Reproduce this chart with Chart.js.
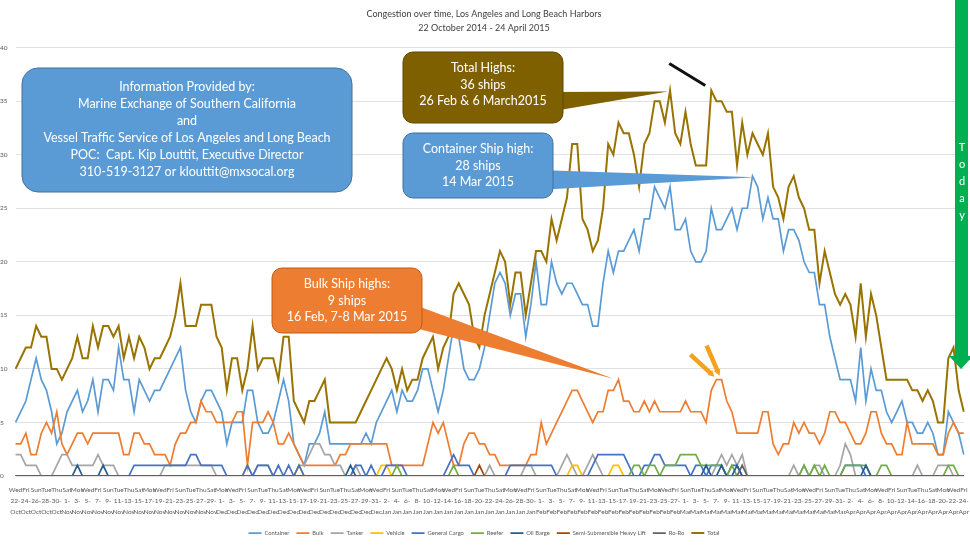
<!DOCTYPE html>
<html>
<head>
<meta charset="utf-8">
<title>Congestion over time, Los Angeles and Long Beach Harbors</title>
<script src="https://cdn.jsdelivr.net/npm/chart.js@4.4.1/dist/chart.umd.min.js"></script>
<style>
    html, body { margin: 0; padding: 0; background: #ffffff; }
    #chartBox { width: 970px; height: 546px; }
</style>
</head>
<body>
<div id="chartBox"><canvas id="congestionChart" width="970" height="546"></canvas></div>
<script>
// Daily ship counts, 22 Oct 2014 - 24 Apr 2015 (185 days)
// rows: Oct(10) / Nov(30) / Dec(31) / Jan(31) / Feb(28) / Mar(31) / Apr(24)
const container = [
    5,6,7,9,11,9,8,6,3,4,
    6,7,8,6,7,9,6,9,9,8, 12,9,9,6,9,8,7,8,8,9, 10,11,12,8,6,5,7,8,8,7,
    6,3,5,5,5,8,8,5,4,4, 5,7,9,7,3,2,1,3,3,4, 6,3,3,3,3,3,3,3,4,3, 5,
    6,7,8,6,8,7,7,8,10,10, 8,6,8,11,14,13,10,9,9,10, 12,15,18,19,18,15,17,17,13,16, 20,
    16,16,20,18,17,18,18,17,16,16, 14,14,18,21,19,21,21,22,23,21, 24,24,27,26,25,27,23,23,
    24,21,20,20,21,25,23,23,24,25, 23,25,25,28,27,24,26,24,24,21, 23,23,22,20,19,19,16,16,13,11, 9,
    9,9,7,12,7,10,8,8,6,5, 6,7,5,5,4,4,5,4,2,2, 6,5,4,2
];
const bulk = [
    3,3,4,2,2,4,5,4,6,3,
    2,3,4,4,3,4,4,4,4,4, 4,2,2,4,4,3,3,2,2,2, 1,3,4,4,5,5,7,6,6,5,
    5,5,5,6,6,1,5,5,5,6, 5,3,3,4,3,2,1,1,1,1, 1,1,1,2,2,3,3,3,3,3, 3,
    3,3,1,1,1,1,1,1,1,3, 5,4,5,3,1,1,3,4,4,3, 3,2,2,1,1,1,1,1,1,2, 2,
    5,3,4,5,6,7,8,8,7,6, 5,6,6,8,8,9,7,7,6,6, 7,6,7,6,6,6,6,6,
    7,6,6,6,5,8,9,9,7,6, 4,4,4,4,4,6,6,3,2,3, 3,5,4,5,4,4,3,4,6,6, 5,
    5,4,3,3,4,6,6,4,3,3, 2,2,5,3,3,3,3,3,2,2, 4,5,4,4
];
const tanker = [
    2,2,1,1,1,0,0,0,1,2,
    2,1,1,1,1,1,2,1,1,1, 0,0,0,0,0,0,0,0,0,1, 1,1,1,1,1,1,1,1,1,0,
    0,0,0,0,0,0,0,1,1,1, 0,0,0,0,0,1,1,2,3,3, 2,2,1,1,0,0,1,0,0,0, 0,
    0,0,0,0,0,0,0,0,0,0, 0,0,0,0,0,0,0,0,0,0, 0,1,0,0,0,0,0,0,1,1, 0,
    0,0,0,0,1,2,1,0,0,1, 2,1,0,0,0,0,0,0,0,0, 0,0,0,0,0,0,0,0,
    0,0,0,0,0,0,1,2,1,2, 1,2,0,0,0,0,0,0,0,0, 0,1,0,1,0,1,1,0,0,0, 1,
    3,2,0,0,0,0,0,0,0,0, 0,0,0,0,1,0,0,0,1,1, 1,0,0,0
];
const vehicle = [
    0,0,0,0,0,0,0,0,0,0,
    0,0,0,0,0,0,0,0,0,0, 0,0,0,0,0,0,0,0,0,0, 0,0,0,0,0,0,0,0,0,0,
    0,0,0,0,0,1,0,0,0,0, 0,0,0,0,0,1,0,0,0,0, 0,0,0,0,0,0,0,0,0,0, 0,
    1,1,0,0,0,0,0,0,0,0, 0,0,0,0,0,0,0,0,0,0, 0,0,0,0,0,0,0,0,0,0, 0,
    0,0,0,0,0,0,1,1,0,0, 0,0,0,0,1,1,0,0,0,0, 0,0,0,0,0,0,0,0,
    0,0,0,0,0,0,0,0,0,0, 0,0,0,0,0,0,0,0,0,0, 0,0,0,0,0,0,0,0,0,0, 0,
    0,0,0,0,0,0,0,0,0,0, 0,0,0,0,0,0,0,0,0,0, 0,0,0,0
];
const generalCargo = [
    0,0,0,0,0,0,0,0,0,0,
    0,0,0,0,0,0,0,0,0,0, 0,0,0,1,1,1,1,1,1,1, 1,1,1,1,2,2,1,1,1,1,
    1,0,0,0,0,1,0,1,1,1, 0,1,0,1,0,1,0,0,0,0, 0,0,0,0,0,0,1,1,0,1, 0,
    0,1,1,1,1,0,0,0,0,0, 0,0,0,1,2,1,1,1,0,0, 0,0,0,0,0,1,1,1,1,1, 1,
    1,1,1,0,0,0,0,0,0,0, 1,2,2,2,2,2,2,1,0,0, 1,1,2,2,1,1,1,1,
    1,0,1,1,0,1,1,1,0,1, 1,0,0,0,0,0,0,0,0,0, 0,0,0,0,0,0,0,0,0,0, 0,
    1,1,1,1,0,0,0,0,0,0, 0,0,0,0,0,0,0,0,0,0, 0,0,0,0
];
const reefer = [
    0,0,0,0,0,0,0,0,0,0,
    0,0,0,0,0,0,0,0,0,0, 0,0,0,0,0,0,0,0,0,0, 0,0,0,0,0,0,0,0,0,0,
    0,0,0,0,0,0,0,0,0,0, 0,0,0,0,0,0,0,0,0,0, 0,0,0,0,0,0,0,0,0,0, 0,
    0,0,0,1,0,0,0,0,0,0, 0,0,0,0,1,0,0,0,0,0, 0,0,0,0,0,0,0,0,0,0, 0,
    0,0,0,0,0,0,0,0,0,0, 0,0,0,0,0,0,0,0,1,1, 0,1,1,0,1,1,1,2,
    2,2,2,1,1,1,1,1,0,1, 0,0,0,0,0,0,0,0,0,0, 0,0,0,1,0,1,0,1,0,0, 0,
    1,1,1,1,1,0,0,1,1,0, 0,0,0,0,0,0,0,0,0,0, 1,1,0,0
];
const oilBarge = [
    0,0,0,0,0,0,0,0,0,0,
    0,0,1,0,0,0,0,1,0,0, 0,0,0,0,0,0,0,0,0,0, 0,0,0,0,0,0,0,0,0,0,
    0,0,0,0,0,0,0,0,0,0, 0,0,0,0,0,0,0,0,0,0, 0,0,0,0,0,1,0,0,0,0, 0,
    0,0,0,0,0,0,0,0,0,0, 0,0,0,0,0,0,0,0,0,0, 0,0,0,0,0,0,0,0,0,0, 0,
    0,0,0,0,0,0,0,0,0,0, 0,0,0,0,0,0,0,0,0,0, 0,0,0,0,0,0,0,0,
    0,0,0,0,1,0,0,1,0,0, 1,0,0,0,0,0,0,0,0,0, 0,0,0,0,0,0,0,0,0,0, 0,
    0,0,0,0,1,0,0,0,0,0, 0,0,0,0,0,0,0,0,0,0, 0,0,0,0
];
const semiSubmersible = [
    0,0,0,0,0,0,0,0,0,0,
    0,0,0,0,0,0,0,0,0,0, 0,0,0,0,0,0,0,0,0,0, 0,0,0,0,0,0,0,0,0,0,
    0,0,0,0,0,0,0,0,0,0, 0,0,0,0,0,0,0,0,0,0, 0,0,0,0,0,0,0,0,0,0, 0,
    0,0,0,0,0,0,0,0,0,0, 0,0,0,0,0,0,0,0,0,1, 0,0,0,0,0,0,0,0,0,0, 0,
    0,0,0,0,0,0,0,0,0,0, 0,0,0,0,0,0,0,0,0,0, 0,0,0,0,0,0,0,0,
    0,0,0,0,0,0,0,0,0,0, 0,0,0,0,0,0,0,0,0,0, 0,0,0,0,0,0,0,0,0,0, 0,
    0,0,0,0,0,0,0,0,0,0, 0,0,0,0,0,0,0,0,0,0, 0,0,0,0
];
const roRo = [
    0,0,0,0,0,0,0,0,0,0,
    0,0,0,0,0,0,0,0,0,0, 0,0,0,0,0,0,0,0,0,0, 0,0,0,0,0,0,0,0,0,0,
    0,0,0,0,0,0,0,0,0,0, 0,0,0,0,0,0,0,0,0,0, 0,0,0,0,0,0,0,0,0,0, 0,
    0,0,0,0,0,0,0,0,0,0, 0,0,0,0,0,0,0,0,0,0, 0,0,0,0,0,0,0,0,0,0, 0,
    0,0,0,0,0,0,0,0,0,0, 0,0,0,0,0,0,0,0,0,0, 0,0,0,0,0,0,0,0,
    0,0,0,0,0,0,0,0,0,0, 0,1,0,0,0,0,0,0,0,0, 0,0,0,0,0,0,0,0,0,0, 0,
    0,0,0,0,0,0,0,0,0,0, 0,0,0,0,0,0,0,0,0,0, 0,0,0,0
];
const total = [
    10,11,12,12,14,13,13,10,10,9,
    10,11,13,11,11,14,12,14,14,13, 14,11,13,11,13,12,10,11,11,12, 13,15,18,14,14,14,16,16,16,13,
    12,8,11,11,8,10,14,10,11,11, 11,9,13,13,7,6,5,7,7,8, 9,5,5,5,5,5,5,6,7,8, 9,
    10,11,10,8,10,8,9,9,11,12, 13,10,12,13,17,18,17,16,13,12, 15,17,19,21,20,16,19,19,15,18, 21,
    21,20,24,22,24,26,31,31,24,23, 21,22,25,31,30,33,32,32,30,27, 31,32,35,35,33,36,32,31,
    34,31,29,29,29,36,35,35,34,34, 29,33,30,32,31,30,32,27,26,24, 27,28,26,25,23,23,18,21,19,17, 16,
    17,16,13,18,13,17,15,12,9,9, 9,9,9,8,8,7,8,7,5,5, 11,12,8,6
];

const seriesNames = ['Container', 'Bulk', 'Tanker', 'Vehicle', 'General Cargo', 'Reefer',
    'Oil Barge', 'Semi-Submersible Heavy Lift', 'Ro-Ro', 'Total'];
const seriesData = [container, bulk, tanker, vehicle, generalCargo, reefer,
    oilBarge, semiSubmersible, roRo, total];
const seriesColors = ['#5B9BD5', '#ED7D31', '#A5A5A5', '#FFC000', '#4472C4', '#70AD47',
    '#255E91', '#9E480E', '#636363', '#997300'];

const yTicks = [0, 5, 10, 15, 20, 25, 30, 35, 40];

// x categories: one per day, label = weekday / day- / month
const weekdayNames = ['Sun', 'Mon', 'Tue', 'Wed', 'Thu', 'Fri', 'Sat'];
const monthNames = ['Jan', 'Feb', 'Mar', 'Apr', 'May', 'Jun', 'Jul', 'Aug', 'Sep', 'Oct', 'Nov', 'Dec'];
const dayCount = 185;
const dayLabels = [];
for (let i = 0; i < dayCount; i++) {
    const d = new Date(2014, 9, 22 + i);
    dayLabels.push([weekdayNames[d.getDay()], d.getDate() + '-', monthNames[d.getMonth()]]);
}

const FONT = 'Lato, "Open Sans", sans-serif';

function roundRectPath(ctx, x, y, w, h, r) {
    ctx.beginPath();
    ctx.moveTo(x + r, y);
    ctx.arcTo(x + w, y, x + w, y + h, r);
    ctx.arcTo(x + w, y + h, x, y + h, r);
    ctx.arcTo(x, y + h, x, y, r);
    ctx.arcTo(x, y, x + w, y, r);
    ctx.closePath();
}

// rounded box with optional wedge pointing at a data point
function drawCallout(ctx, box, fill, stroke, lines, wedge) {
    ctx.save();
    ctx.fillStyle = fill;
    if (wedge) {
        ctx.beginPath();
        ctx.moveTo(wedge.baseX, wedge.y1);
        ctx.lineTo(wedge.tipX, wedge.tipY);
        ctx.lineTo(wedge.baseX, wedge.y2);
        ctx.closePath();
        ctx.fill();
    }
    roundRectPath(ctx, box.x, box.y, box.w, box.h, box.r);
    ctx.fill();
    ctx.lineWidth = 1;
    ctx.strokeStyle = stroke;
    ctx.stroke();
    ctx.fillStyle = '#ffffff';
    ctx.font = box.fontSize + 'px ' + FONT;
    ctx.textAlign = 'center';
    ctx.textBaseline = 'middle';
    lines.forEach((t, k) => {
        ctx.fillText(t, box.x + box.w / 2, box.firstLine + k * box.lineGap);
    });
    ctx.restore();
}

function drawArrow(ctx, x1, y1, x2, y2, color, width, head) {
    const ang = Math.atan2(y2 - y1, x2 - x1);
    ctx.save();
    ctx.strokeStyle = color;
    ctx.fillStyle = color;
    ctx.lineWidth = width;
    ctx.lineCap = 'butt';
    ctx.beginPath();
    ctx.moveTo(x1, y1);
    ctx.lineTo(x2 - Math.cos(ang) * head * 0.8, y2 - Math.sin(ang) * head * 0.8);
    ctx.stroke();
    if (head > 0) {
        ctx.beginPath();
        ctx.moveTo(x2, y2);
        ctx.lineTo(x2 - head * Math.cos(ang - 0.5), y2 - head * Math.sin(ang - 0.5));
        ctx.lineTo(x2 - head * Math.cos(ang + 0.5), y2 - head * Math.sin(ang + 0.5));
        ctx.closePath();
        ctx.fill();
    }
    ctx.restore();
}

const notesPlugin = {
    id: 'harborNotes',
    afterDatasetsDraw(chart) {
        const ctx = chart.ctx;
        const xs = chart.scales.x;
        const ys = chart.scales.y;

        // peaks taken from the data
        const totalMax = Math.max(...total);
        const totalFirst = total.indexOf(totalMax);
        const totalSecond = total.lastIndexOf(totalMax);
        const contMax = Math.max(...container);
        const contDay = container.indexOf(contMax);
        const bulkMax = Math.max(...bulk);
        const bulkFirst = bulk.indexOf(bulkMax);
        const bulkLast = bulk.lastIndexOf(bulkMax);

        // info box
        drawCallout(ctx, { x: 22, y: 68, w: 330, h: 124, r: 16, fontSize: 12.5, firstLine: 87, lineGap: 16.9 },
            '#5B9BD5', '#41719C', [
                'Information Provided by:',
                'Marine Exchange of Southern California',
                'and',
                'Vessel Traffic Service of Los Angeles and Long Beach',
                'POC:  Capt. Kip Louttit, Executive Director',
                '310-519-3127 or klouttit@mxsocal.org'
            ], null);

        // total highs
        drawCallout(ctx, { x: 403, y: 52, w: 160, h: 71, r: 10, fontSize: 12.5, firstLine: 68, lineGap: 16.5 },
            '#7F6000', '#5E4700', ['Total Highs:', '36 ships', '26 Feb & 6 March2015'],
            { baseX: 548, y1: 92, y2: 112, tipX: xs.getPixelForValue(totalFirst) - 2, tipY: ys.getPixelForValue(totalMax) + 1 });

        // container high
        drawCallout(ctx, { x: 403, y: 133, w: 150, h: 65, r: 10, fontSize: 12.5, firstLine: 149, lineGap: 16.5 },
            '#5B9BD5', '#41719C', ['Container Ship high:', '28 ships', '14 Mar 2015'],
            { baseX: 538, y1: 170, y2: 190, tipX: xs.getPixelForValue(contDay) + 3, tipY: ys.getPixelForValue(contMax) + 1 });

        // bulk highs
        drawCallout(ctx, { x: 272, y: 268, w: 150, h: 65, r: 10, fontSize: 12.5, firstLine: 284, lineGap: 16.5 },
            '#ED7D31', '#C55A11', ['Bulk Ship highs:', '9 ships', '16 Feb, 7-8 Mar 2015'],
            { baseX: 407, y1: 302, y2: 326, tipX: xs.getPixelForValue(bulkFirst) - 5, tipY: ys.getPixelForValue(bulkMax) - 1 });

        // black pointer at the second total peak
        const sx = xs.getPixelForValue(totalSecond);
        const sy = ys.getPixelForValue(totalMax);
        drawArrow(ctx, sx - 42, sy - 27, sx - 6, sy - 5, '#111111', 3, 0);

        // orange pointers at the March bulk peaks
        const bx1 = xs.getPixelForValue(bulkLast - 1);
        const bx2 = xs.getPixelForValue(bulkLast);
        const by = ys.getPixelForValue(bulkMax);
        drawArrow(ctx, bx1 - 26, by - 25, bx1 - 2, by - 3, '#F5A11C', 4.5, 7);
        drawArrow(ctx, bx2 - 15, by - 34, bx2 - 2, by - 4, '#F5A11C', 4.5, 7);

        // "Today" arrow at the right edge
        ctx.save();
        ctx.fillStyle = '#00B050';
        ctx.fillRect(955, 0, 13, 356);
        ctx.beginPath();
        ctx.moveTo(949, 356);
        ctx.lineTo(973, 356);
        ctx.lineTo(961, 369);
        ctx.closePath();
        ctx.fill();
        ctx.fillStyle = '#ffffff';
        ctx.font = '11px ' + FONT;
        ctx.textAlign = 'center';
        ctx.textBaseline = 'middle';
        'Today'.split('').forEach((ch, k) => ctx.fillText(ch, 962, 147 + k * 17));
        ctx.restore();
    }
};

const datasets = seriesNames.map((name, i) => ({
    label: name,
    data: seriesData[i],
    borderColor: seriesColors[i],
    backgroundColor: seriesColors[i],
    borderWidth: name === 'Total' ? 2 : 1.7,
    pointRadius: 0,
    tension: 0,
    fill: false,
    order: seriesNames.length - i // Total drawn on top
}));

new Chart(document.getElementById('congestionChart'), {
    type: 'line',
    data: { labels: dayLabels, datasets: datasets },
    options: {
        responsive: false,
        animation: false,
        layout: { padding: { left: 0, right: 2, top: 0, bottom: 0 } },
        plugins: {
            title: {
                display: true,
                text: 'Congestion over time, Los Angeles and Long Beach Harbors',
                color: '#404040',
                font: { family: FONT, size: 9, weight: 'normal' },
                padding: { top: 9, bottom: 3 }
            },
            subtitle: {
                display: true,
                text: '22 October 2014 - 24 April 2015',
                color: '#404040',
                font: { family: FONT, size: 9 },
                padding: { top: 0, bottom: 14 }
            },
            legend: {
                position: 'bottom',
                labels: {
                    usePointStyle: true,
                    pointStyle: 'line',
                    pointStyleWidth: 13,
                    boxWidth: 13,
                    boxHeight: 6,
                    padding: 7,
                    color: '#595959',
                    font: { family: FONT, size: 5.8 },
                    sort: (a, b) => a.datasetIndex - b.datasetIndex
                }
            },
            tooltip: { enabled: false }
        },
        scales: {
            x: {
                offset: false,
                grid: { display: false },
                border: { display: false },
                afterFit: axis => { axis.height += 5; }, // room between date rows and legend
                ticks: {
                    autoSkip: false,
                    maxRotation: 0,
                    minRotation: 0,
                    padding: 1,
                    color: '#595959',
                    font: { family: FONT, size: 6.5, lineHeight: 1.65 },
                    callback: function (value, index) {
                        return index % 2 === 0 ? this.getLabelForValue(value) : '';
                    }
                }
            },
            y: {
                min: yTicks[0],
                max: yTicks[yTicks.length - 1],
                afterBuildTicks: axis => { axis.ticks = yTicks.map(v => ({ value: v })); },
                grid: { color: '#D9D9D9', lineWidth: 0.8, drawTicks: false },
                border: { display: false },
                ticks: {
                    padding: 4,
                    crossAlign: 'far',
                    color: '#595959',
                    font: { family: FONT, size: 6.5 }
                }
            }
        }
    },
    plugins: [notesPlugin]
});
</script>
</body>
</html>
